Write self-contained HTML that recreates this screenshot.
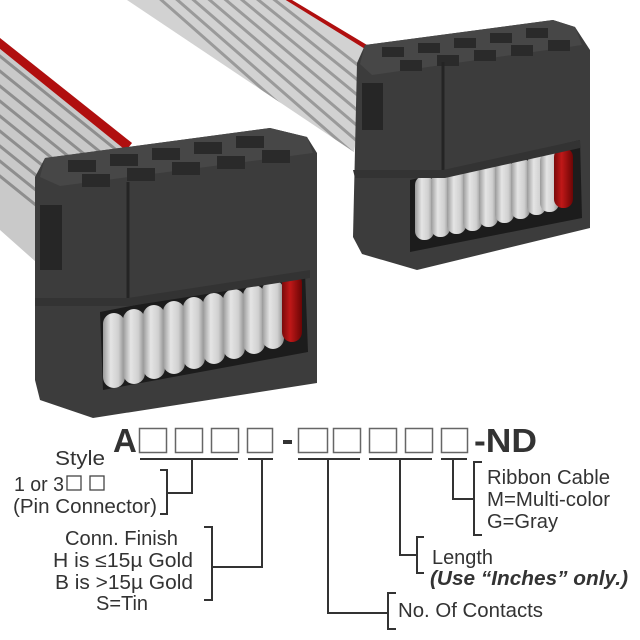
<!DOCTYPE html>
<html><head><meta charset="utf-8"><style>
html,body{margin:0;padding:0;background:#fff;}
svg{display:block;}
text{font-family:"Liberation Sans",Arial,sans-serif;fill:#333;}
</style></head><body>
<svg width="640" height="640" viewBox="0 0 640 640" xmlns="http://www.w3.org/2000/svg">
<defs>
<clipPath id="rl"><polygon points="0,38 132,143 36,262 0,230"/></clipPath>
<clipPath id="rr"><polygon points="127,0 292,0 372,48 354,152"/></clipPath>
<linearGradient id="coil" x1="0" x2="1"><stop offset="0" stop-color="#9a9a9a"/><stop offset="0.35" stop-color="#e4e4e4"/><stop offset="0.7" stop-color="#d0d0d0"/><stop offset="1" stop-color="#8a8a8a"/></linearGradient>
<linearGradient id="coilr" x1="0" x2="1"><stop offset="0" stop-color="#7a0a0a"/><stop offset="0.4" stop-color="#c01818"/><stop offset="1" stop-color="#6a0505"/></linearGradient>
</defs>

<g clip-path="url(#rl)">
<rect x="0" y="0" width="200" height="300" fill="#c9c9c9"/>
<g stroke-width="3">
<line x1="-200" y1="-120" x2="300" y2="283" stroke="#b00f0f" stroke-width="12"/>
<line x1="-200" y1="-105" x2="300" y2="298" stroke="#8e8e8e"/>
<line x1="-200" y1="-90" x2="300" y2="313" stroke="#8e8e8e"/>
<line x1="-200" y1="-75" x2="300" y2="328" stroke="#8e8e8e"/>
<line x1="-200" y1="-60" x2="300" y2="343" stroke="#8e8e8e"/>
<line x1="-200" y1="-45" x2="300" y2="358" stroke="#8e8e8e"/>
<line x1="-200" y1="-30" x2="300" y2="373" stroke="#8e8e8e"/>
<line x1="-200" y1="-15" x2="300" y2="388" stroke="#8e8e8e"/>
<line x1="-200" y1="0" x2="300" y2="403" stroke="#8e8e8e"/>
<line x1="-200" y1="15" x2="300" y2="418" stroke="#8e8e8e"/>
</g>
</g>
<g clip-path="url(#rr)">
<rect x="100" y="0" width="300" height="200" fill="#d2d2d2"/>
<g stroke-width="3">
<line x1="280" y1="-10" x2="400" y2="64" stroke="#b00f0f" stroke-width="11"/>
<line x1="262" y1="-10" x2="382" y2="84" stroke="#9a9a9a"/>
<line x1="246" y1="-10" x2="380" y2="98" stroke="#9a9a9a"/>
<line x1="230" y1="-10" x2="378" y2="112" stroke="#9a9a9a"/>
<line x1="214" y1="-10" x2="376" y2="126" stroke="#9a9a9a"/>
<line x1="198" y1="-10" x2="374" y2="140" stroke="#9a9a9a"/>
<line x1="182" y1="-10" x2="372" y2="154" stroke="#9a9a9a"/>
<line x1="166" y1="-10" x2="370" y2="168" stroke="#9a9a9a"/>
<line x1="150" y1="-10" x2="368" y2="182" stroke="#9a9a9a"/>
</g>
</g>

<polygon points="365,45 553,20 575,27 590,50 590,228 417,270 362,254 353,237 357,63" fill="#3c3c3c"/>
<polygon points="365,45 553,20 575,27 582,45 372,75 360,64" fill="#474747"/>
<g fill="#2a2a2a">
<rect x="382" y="47" width="22" height="10"/><rect x="418" y="43" width="22" height="10"/><rect x="454" y="38" width="22" height="10"/><rect x="490" y="33" width="22" height="10"/><rect x="526" y="28" width="22" height="10"/>
<rect x="400" y="60" width="22" height="11"/><rect x="437" y="55" width="22" height="11"/><rect x="474" y="50" width="22" height="11"/><rect x="511" y="45" width="22" height="11"/><rect x="548" y="40" width="22" height="11"/>
</g>
<rect x="362" y="83" width="21" height="47" fill="#262626"/>
<line x1="443" y1="62" x2="443" y2="170" stroke="#242424" stroke-width="3"/>
<polygon points="410,180 580,140 582,218 410,252" fill="#1c1c1c"/>
<g>
<rect x="415" y="176" width="19" height="64" rx="9" fill="url(#coil)"/>
<rect x="431" y="173" width="19" height="64" rx="9" fill="url(#coil)"/>
<rect x="447" y="170" width="19" height="64" rx="9" fill="url(#coil)"/>
<rect x="463" y="167" width="19" height="64" rx="9" fill="url(#coil)"/>
<rect x="479" y="164" width="19" height="63" rx="9" fill="url(#coil)"/>
<rect x="495" y="161" width="19" height="62" rx="9" fill="url(#coil)"/>
<rect x="511" y="158" width="19" height="61" rx="9" fill="url(#coil)"/>
<rect x="527" y="155" width="19" height="60" rx="9" fill="url(#coil)"/>
<rect x="540" y="152" width="19" height="60" rx="9" fill="url(#coil)"/>
<rect x="554" y="148" width="19" height="60" rx="9" style="fill:url(#coilr)"/>
</g>
<polygon points="353,170 443,170 580,140 580,148 445,178 355,178" fill="#333"/>

<polygon points="45,158 270,128 307,137 317,153 317,383 93,418 40,400 35,380 35,177" fill="#3c3c3c"/>
<polygon points="45,158 270,128 307,137 313,153 60,186 40,177" fill="#474747"/>
<g fill="#2a2a2a">
<rect x="68" y="160" width="28" height="12"/><rect x="110" y="154" width="28" height="12"/><rect x="152" y="148" width="28" height="12"/><rect x="194" y="142" width="28" height="12"/><rect x="236" y="136" width="28" height="12"/>
<rect x="82" y="174" width="28" height="13"/><rect x="127" y="168" width="28" height="13"/><rect x="172" y="162" width="28" height="13"/><rect x="217" y="156" width="28" height="13"/><rect x="262" y="150" width="28" height="13"/>
</g>
<rect x="40" y="205" width="22" height="65" fill="#262626"/>
<line x1="128" y1="182" x2="128" y2="300" stroke="#242424" stroke-width="3"/>
<polygon points="100,312 305,272 308,352 103,390" fill="#1c1c1c"/>
<g>
<rect x="103" y="313" width="22" height="75" rx="11" fill="url(#coil)"/>
<rect x="123" y="309" width="22" height="75" rx="11" fill="url(#coil)"/>
<rect x="143" y="305" width="22" height="74" rx="11" fill="url(#coil)"/>
<rect x="163" y="301" width="22" height="73" rx="11" fill="url(#coil)"/>
<rect x="183" y="297" width="22" height="72" rx="11" fill="url(#coil)"/>
<rect x="203" y="293" width="22" height="71" rx="11" fill="url(#coil)"/>
<rect x="223" y="289" width="22" height="70" rx="11" fill="url(#coil)"/>
<rect x="243" y="285" width="22" height="69" rx="11" fill="url(#coil)"/>
<rect x="262" y="280" width="22" height="69" rx="11" fill="url(#coil)"/>
<rect x="282" y="273" width="20" height="69" rx="10" style="fill:url(#coilr)"/>
</g>
<polygon points="35,298 128,298 310,270 310,278 130,306 35,306" fill="#333"/>

<text x="113" y="452" font-size="33" font-weight="bold" fill="#333">A</text>
<g fill="none" stroke="#666" stroke-width="1.5">
<rect x="139.5" y="428.5" width="27" height="24"/><rect x="175.5" y="428.5" width="27" height="24"/><rect x="211.5" y="428.5" width="27" height="24"/><rect x="247.5" y="428.5" width="25" height="24"/>
<rect x="298.5" y="428.5" width="29" height="24"/><rect x="333.5" y="428.5" width="27" height="24"/><rect x="369.5" y="428.5" width="27" height="24"/><rect x="405.5" y="428.5" width="27" height="24"/><rect x="441.5" y="428.5" width="26" height="24"/>
</g>
<rect x="283" y="440" width="9" height="4" fill="#333"/>
<text x="474" y="452" font-size="33" font-weight="bold" fill="#333" textLength="63" lengthAdjust="spacingAndGlyphs">-ND</text>

<g fill="none" stroke="#333" stroke-width="2">
<path d="M140 459H238M248 459H273M298 459H360M369 459H432M441 459H467"/>
<path d="M192 459V493H167M160 470H167V514H160"/>
<path d="M262 459V567H212M204 527H212V600H204"/>
<path d="M328 459V613H388M396 593H388V629H396"/>
<path d="M400 459V555H417M424 537H417V573H424"/>
<path d="M453 459V499H474M482 462H474V535H482"/>
</g>

<g font-size="20">
<text x="55" y="465" textLength="50" lengthAdjust="spacingAndGlyphs">Style</text>
<text x="14" y="491" textLength="50" lengthAdjust="spacingAndGlyphs">1 or 3</text>
<rect x="67" y="476" width="14" height="14" fill="none" stroke="#444" stroke-width="1.3"/>
<rect x="90" y="476" width="14" height="14" fill="none" stroke="#444" stroke-width="1.3"/>
<text x="13" y="513" textLength="144" lengthAdjust="spacingAndGlyphs">(Pin Connector)</text>
<text x="65" y="545" textLength="113" lengthAdjust="spacingAndGlyphs">Conn. Finish</text>
<text x="53" y="567" textLength="140" lengthAdjust="spacingAndGlyphs">H is ≤15µ  Gold</text>
<text x="55" y="589" textLength="138" lengthAdjust="spacingAndGlyphs">B is &gt;15µ  Gold</text>
<text x="96" y="610" textLength="52" lengthAdjust="spacingAndGlyphs">S=Tin</text>
<text x="487" y="484" textLength="123" lengthAdjust="spacingAndGlyphs">Ribbon Cable</text>
<text x="487" y="506" textLength="123" lengthAdjust="spacingAndGlyphs">M=Multi-color</text>
<text x="487" y="528" textLength="71" lengthAdjust="spacingAndGlyphs">G=Gray</text>
<text x="432" y="564" textLength="61" lengthAdjust="spacingAndGlyphs">Length</text>
<text x="430" y="585" font-weight="bold" font-style="italic" textLength="198" lengthAdjust="spacingAndGlyphs">(Use “Inches” only.)</text>
<text x="398" y="617" textLength="145" lengthAdjust="spacingAndGlyphs">No. Of Contacts</text>
</g>
</svg>
</body></html>
